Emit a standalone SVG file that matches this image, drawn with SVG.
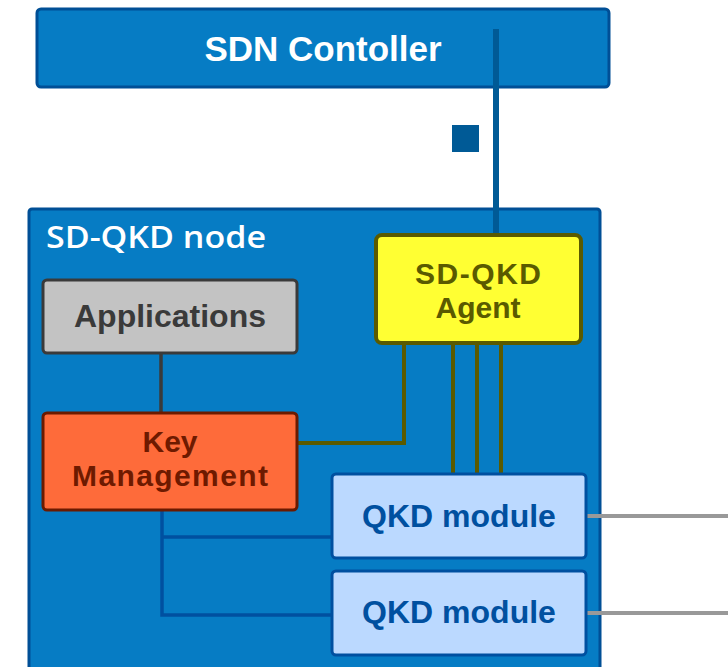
<svg xmlns="http://www.w3.org/2000/svg" width="728" height="667" viewBox="0 0 728 667">
<style>
.lbl{font-family:"Liberation Sans",Arial,sans-serif;font-weight:bold;font-size:32px;text-anchor:middle}
.two{font-size:30px}
</style>
<rect width="728" height="667" fill="#ffffff"/>
<g id="sdn-controller">
<rect x="37" y="9" width="572" height="78" rx="4" fill="#067cc4" stroke="#004f96" stroke-width="3"/>
<text class="lbl" x="323" y="61" fill="#ffffff" style="font-size:35px">SDN Contoller</text>
</g>
<g id="sdqkd-node">
<rect x="29" y="209" width="571" height="470" rx="3" fill="#067cc4" stroke="#004f96" stroke-width="3"/>
<text x="46" y="248" fill="#ffffff" font-family="'Open Sans',sans-serif" font-weight="600" font-size="30" textLength="220" lengthAdjust="spacingAndGlyphs">SD-QKD node</text>
</g>
<g id="connectors">
<line x1="496" y1="29" x2="496" y2="234" stroke="#005a96" stroke-width="6"/>
<rect x="452" y="125" width="27" height="27" fill="#005a96"/>
<line x1="161" y1="353" x2="161" y2="413" stroke="#3a3a3a" stroke-width="3.5"/>
<polyline points="404,343 404,443 297,443" fill="none" stroke="#5a5a00" stroke-width="4"/>
<line x1="453" y1="343" x2="453" y2="474" stroke="#5a5a00" stroke-width="4"/>
<line x1="477" y1="343" x2="477" y2="474" stroke="#5a5a00" stroke-width="4"/>
<line x1="501" y1="343" x2="501" y2="474" stroke="#5a5a00" stroke-width="4"/>
<polyline points="162,510 162,615 332,615" fill="none" stroke="#0050a0" stroke-width="3.5"/>
<line x1="162" y1="537" x2="332" y2="537" stroke="#0050a0" stroke-width="3.5"/>
<line x1="587" y1="516" x2="728" y2="516" stroke="#999999" stroke-width="4"/>
<line x1="587" y1="613" x2="728" y2="613" stroke="#999999" stroke-width="4"/>
</g>
<g id="applications">
<rect x="43" y="280" width="254" height="73" rx="4" fill="#c3c3c3" stroke="#3a3a3a" stroke-width="3"/>
<text class="lbl" x="170" y="327" fill="#3a3a3a">Applications</text>
</g>
<g id="key-management">
<rect x="43" y="413" width="254" height="97" rx="4" fill="#fe6b3a" stroke="#6b1a00" stroke-width="3"/>
<text class="lbl two" x="170" y="452" fill="#6e1a00">Key</text>
<text class="lbl two" x="170" y="486" fill="#6e1a00" textLength="196">Management</text>
</g>
<g id="sdqkd-agent">
<rect x="376" y="235" width="205" height="108" rx="6" fill="#ffff33" stroke="#5a5a00" stroke-width="4"/>
<text class="lbl two" x="478" y="284" fill="#5a5a00" textLength="126">SD-QKD</text>
<text class="lbl two" x="478" y="318" fill="#5a5a00">Agent</text>
</g>
<g id="qkd-module-1">
<rect x="332" y="474" width="254" height="84" rx="4" fill="#bbd9ff" stroke="#0050a0" stroke-width="3"/>
<text class="lbl" x="459" y="527" fill="#0050a0">QKD module</text>
</g>
<g id="qkd-module-2">
<rect x="332" y="571" width="254" height="84" rx="4" fill="#bbd9ff" stroke="#0050a0" stroke-width="3"/>
<text class="lbl" x="459" y="623" fill="#0050a0">QKD module</text>
</g>
</svg>
